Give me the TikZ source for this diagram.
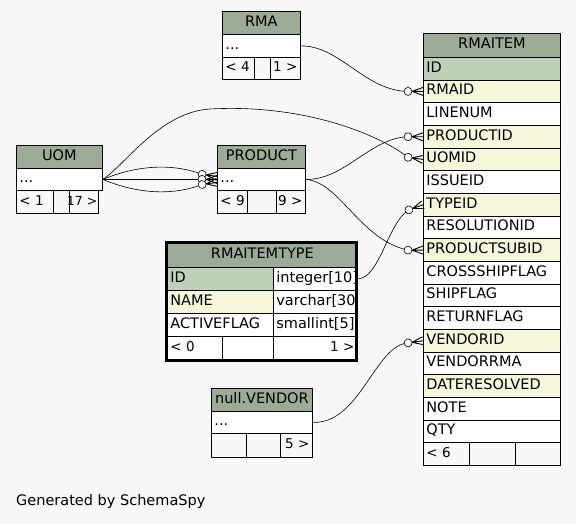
\documentclass[tikz,border=0pt]{standalone}
\usepackage{fontspec}
\setmainfont{DejaVu Sans}
\definecolor{hdr}{HTML}{9BAB96}
\definecolor{pk}{HTML}{BED1B8}
\definecolor{fk}{HTML}{F4F7DA}
\definecolor{bg}{HTML}{F7F7F7}
\pgfdeclarelayer{fg}
\pgfsetlayers{main,fg}
\tikzset{
  cellbase/.style={draw=black, line width=0.8pt, anchor=north west, inner xsep=3pt, inner ysep=0pt,
    text height=10.5pt, text depth=3.5pt, font=\fontsize{14.5}{16}\selectfont},
  foot/.style={font=\fontsize{13.5}{16}\selectfont},
  edge/.style={draw=black, line width=0.6pt},
  crowline/.style={draw=black, line width=0.9pt},
}
\newcommand\cL[8][]{\node[cellbase,#1,fill=#7,minimum height=#6pt,text width=\dimexpr #5pt-6pt\relax,align=left] (#2) at ({#3},{#4}) {\makebox[\linewidth][l]{#8}};}
\newcommand\cC[7]{\node[cellbase,fill=#6,minimum height=#5pt,text width=\dimexpr #4pt-6pt\relax,align=center] (#1) at ({#2},{#3}) {#7};}
\newcommand\cR[8][]{\node[cellbase,#1,fill=#7,minimum height=#6pt,text width=\dimexpr #5pt-6pt\relax,align=right] (#2) at ({#3},{#4}) {\makebox[\linewidth][r]{#8}};}
\newcommand\crowfoot[3]{%
  \begin{scope}[shift={(#2)}, rotate=#3, x=1pt, y=1pt]
    \coordinate (#1) at (-15,0);
    \begin{pgfonlayer}{fg}
      \draw[edge, fill=bg] (-15,0) circle (4pt);
      \draw[crowline] (-11,0) -- (0,4) (-11,0) -- (0,0) (-11,0) -- (0,-4);
    \end{pgfonlayer}
  \end{scope}}
\begin{document}
\begin{tikzpicture}[x=1pt,y=-1pt]
\fill[bg] (0,0) rectangle (576,524);
\useasboundingbox (0,0) rectangle (576,524);

% RMA
\cC{rma-h}{222}{11}{78}{23}{hdr}{RMA}
\cL{rma-d}{222}{34}{78}{23}{white}{...}
\cL[foot]{rma-f1}{222}{57}{32}{22}{bg}{< 4}
\cL[foot]{rma-f2}{254}{57}{16}{22}{bg}{}
\cR[foot]{rma-f3}{270}{57}{30}{22}{bg}{1 >}

% RMAITEM
\cC{ri-h}{423}{33}{137}{24}{hdr}{RMAITEM}
\foreach \n/\t/\c [count=\i from 0] in {id/ID/pk, rmaid/RMAID/fk, linenum/LINENUM/white,
  productid/PRODUCTID/fk, uomid/UOMID/fk, issueid/ISSUEID/white, typeid/TYPEID/fk,
  resolutionid/RESOLUTIONID/white, productsubid/PRODUCTSUBID/fk, crossshipflag/CROSSSHIPFLAG/white,
  shipflag/SHIPFLAG/white, returnflag/RETURNFLAG/white, vendorid/VENDORID/fk,
  vendorrma/VENDORRMA/white, dateresolved/DATERESOLVED/fk, note/NOTE/white, qty/QTY/white}
  {\cL{ri-\n}{423}{57+\i*22.67}{137}{22.67}{\c}{\t}}
\cL[foot]{ri-f1}{423}{442.39}{46}{22.67}{bg}{< 6}
\cL[foot]{ri-f2}{469}{442.39}{46}{22.67}{bg}{}
\cL[foot]{ri-f3}{515}{442.39}{45}{22.67}{bg}{}

% UOM
\cC{uom-h}{16}{145}{86}{23}{hdr}{UOM}
\cL{uom-d}{16}{168}{86}{22}{white}{...}
\cL[foot]{uom-f1}{16}{190}{37}{23}{bg}{< 1}
\cL[foot]{uom-f2}{53}{190}{16}{23}{bg}{}
\cR[foot,font=\fontsize{12.5}{15}\selectfont,inner xsep=1pt]{uom-f3}{69}{190}{33}{23}{bg}{17 >}

% PRODUCT
\cC{prod-h}{217}{145}{88}{23}{hdr}{PRODUCT}
\cL{prod-d}{217}{168}{88}{22}{white}{...}
\cL[foot]{prod-f1}{217}{190}{30}{23}{bg}{< 9}
\cL[foot]{prod-f2}{247}{190}{29}{23}{bg}{}
\cR[foot]{prod-f3}{276}{190}{29}{23}{bg}{9 >}

% RMAITEMTYPE
\begin{scope}
\clip (166,242) rectangle (355.5,360);
\cC{rit-h}{167}{243}{190}{24}{hdr}{RMAITEMTYPE}
\cL{rit-id}{167}{267}{106}{23}{pk}{ID}
\cL{rit-idt}{273}{267}{84}{23}{white}{integer[10]}
\cL{rit-name}{167}{290}{106}{23}{fk}{NAME}
\cL{rit-namet}{273}{290}{84}{23}{white}{varchar[30]}
\cL{rit-act}{167}{313}{106}{23}{white}{ACTIVEFLAG}
\cL{rit-actt}{273}{313}{84}{23}{white}{smallint[5]}
\cL[foot]{rit-f1}{167}{336}{55}{23}{white}{< 0}
\cL[foot]{rit-f2}{222}{336}{51}{23}{white}{}
\cR[foot]{rit-f3}{273}{336}{84}{23}{white}{1 >}
\end{scope}
\draw[line width=3pt] (166,242) rectangle (356,360);

% null.VENDOR
\cC{ven-h}{211}{388}{101}{23}{hdr}{null.VENDOR}
\cL{ven-d}{211}{411}{101}{22}{white}{...}
\cL[foot]{ven-f1}{211}{433}{35}{24}{bg}{}
\cL[foot]{ven-f2}{246}{433}{34}{24}{bg}{}
\cR[foot]{ven-f3}{280}{433}{32}{24}{bg}{5 >}

\node[anchor=base west, inner sep=0pt, font=\fontsize{14.5}{16}\selectfont] (gen) at (16,505) {Generated by SchemaSpy};

% crow's feet
\crowfoot{c-rmaid}{ri-rmaid.west}{0}
\crowfoot{c-productid}{ri-productid.west}{0}
\crowfoot{c-uomid}{ri-uomid.west}{-8}
\crowfoot{c-typeid}{ri-typeid.west}{20}
\crowfoot{c-productsubid}{ri-productsubid.west}{0}
\crowfoot{c-vendorid}{ri-vendorid.west}{8}
\crowfoot{c-pu1}{[yshift=3pt]prod-d.west}{-8}
\crowfoot{c-pu2}{prod-d.west}{0}
\crowfoot{c-pu3}{[yshift=-3pt]prod-d.west}{8}

% connectors
\draw[edge] (rma-d.east) .. controls (340,45.5) and (365,91) .. (c-rmaid);
\draw[edge] (uom-d.east) .. controls (125,165) and (160,112) .. (210,109) .. controls (300,104) and (375,132) .. (c-uomid);
\draw[edge] (uom-d.east) .. controls (140,164) and (175,164) .. (c-pu1);
\draw[edge] (uom-d.east) -- (c-pu2);
\draw[edge] (uom-d.east) .. controls (140,195) and (175,195) .. (c-pu3);
\draw[edge] (prod-d.east) .. controls (345,180) and (370,138) .. (c-productid);
\draw[edge] (prod-d.east) .. controls (340,182) and (360,240) .. (c-productsubid);
\draw[edge] (rit-idt.east) .. controls (380,278) and (388,222) .. (c-typeid);
\draw[edge] (ven-d.east) .. controls (360,424) and (375,345) .. (c-vendorid);
\end{tikzpicture}
\end{document}
